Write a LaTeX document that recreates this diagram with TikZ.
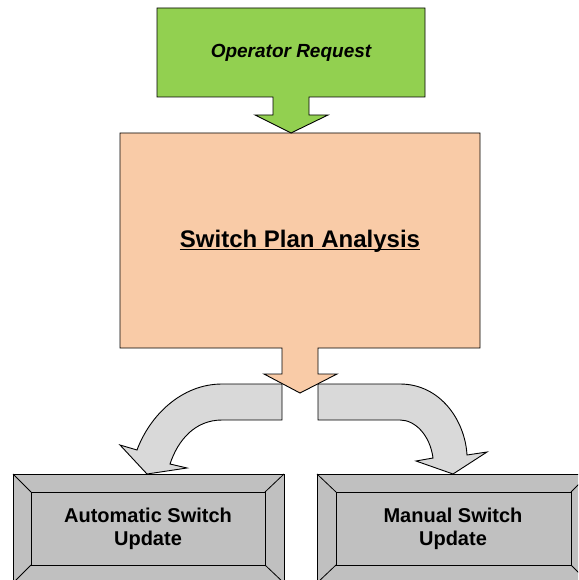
\documentclass[tikz,border=0pt]{standalone}
\usepackage{fontspec}
\setmainfont{Liberation Sans}
\definecolor{opgreen}{HTML}{92D050}
\definecolor{plansalmon}{HTML}{F9CBA7}
\definecolor{bendgrey}{HTML}{D9D9D9}
\definecolor{boxgrey}{HTML}{C0C0C0}
% thick underline that cuts through descenders
\newcommand\planul[1]{\setbox0\hbox{#1}\rlap{\rule[-3.2pt]{\wd0}{1.7pt}}\box0}

\begin{document}
\begin{tikzpicture}[x=1pt,y=-1pt,
  outline/.style={draw=black,line width=0.9pt,line join=miter},
  bevel/.style={draw=black,line width=1pt,fill=boxgrey},
  caption/.style={font=\bfseries,align=center,inner sep=0pt}]
\useasboundingbox (0,0) rectangle (578,580);
\clip (0,0) rectangle (578,580);

% curved branch arrows
\draw[outline,fill=bendgrey] (282,384) -- (222,384)
  .. controls (182,384) and (150,415) .. (137,450)
  -- (120,445) -- (147,474) -- (187,468) -- (170,464)
  .. controls (178,440) and (195,420) .. (222,420)
  -- (282,420) -- cycle;
\draw[outline,fill=bendgrey] (318,384) -- (400,384)
  .. controls (440,384) and (465,420) .. (467,455)
  -- (487,452) -- (453,474) -- (416,461) -- (433,458)
  .. controls (430,435) and (415,420) .. (400,420)
  -- (318,420) -- cycle;

% analysis block with its down arrow
\draw[outline,fill=plansalmon] (120,133) -- (480,133) -- (480,348) -- (318,348)
  -- (318,374) -- (337,374) -- (300,393) -- (264,374) -- (282,374)
  -- (282,348) -- (120,348) -- cycle;

% request block with its down arrow
\draw[outline,fill=opgreen] (157,8) -- (425,8) -- (425,97) -- (309,97)
  -- (309,115) -- (328,115) -- (291,133) -- (255,115) -- (273,115)
  -- (273,97) -- (157,97) -- cycle;

% bevelled update boxes
\foreach \xo/\xi/\xj/\xr in {13/31/265/284, 317/336/571/589} {
  \draw[bevel] (\xo,474) rectangle (\xr,583);
  \draw[line width=1pt] (\xi,492) rectangle (\xj,565);
  \draw[line width=0.8pt] (\xo,474) -- (\xi,492) (\xr,474) -- (\xj,492)
    (\xo,583) -- (\xi,565) (\xr,583) -- (\xj,565);
}

\node[caption,anchor=base,font=\bfseries\itshape\fontsize{19}{22}\selectfont]
  (op) at (291,57.5) {Operator Request};
\node[caption,anchor=base,font=\bfseries\fontsize{24}{28}\selectfont]
  (spa) at (300,247) {\planul{Switch Plan Analysis}};
\node[caption,font=\bfseries\fontsize{20}{23}\selectfont]
  (auto) at (148,529) {Automatic Switch\\Update};
\node[caption,font=\bfseries\fontsize{20}{23}\selectfont]
  (manual) at (453,529) {Manual Switch\\Update};
\end{tikzpicture}
\end{document}
